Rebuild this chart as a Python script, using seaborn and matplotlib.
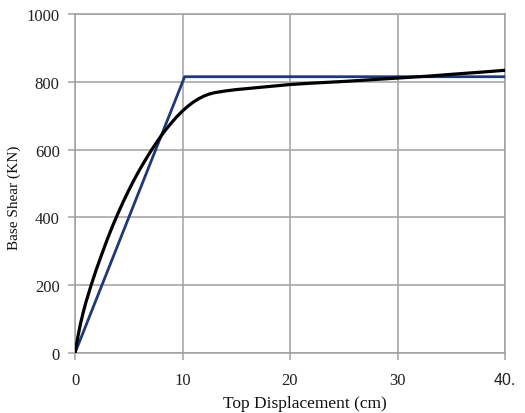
import matplotlib
matplotlib.use("Agg")
import matplotlib.pyplot as plt
import seaborn as sns
import pandas as pd

# Pushover curve (top displacement in cm, base shear in kN)
disp_curve = [0, 0.25, 0.5, 0.75, 1, 1.5, 2, 2.5, 3, 3.5, 4, 4.5, 5, 5.5, 6, 6.5,
              7, 7.5, 8, 8.5, 9, 9.5, 10, 10.5, 11, 11.5, 12, 12.5, 13, 14, 15,
              16, 18, 20, 22, 25, 28, 30, 33, 35, 38, 40]
shear_curve = [0, 45, 85, 118, 148, 200, 248, 292, 335, 375, 412, 447, 480, 511,
               540, 567, 593, 617, 640, 661, 680, 698, 714, 728, 740, 750, 758,
               764, 768, 773, 777, 780, 786, 792, 796, 801, 807, 811, 817, 822,
               829, 834]

# Idealised bilinear curve
disp_bilinear = [0, 10.2, 40]
shear_bilinear = [0, 815, 815]

x_ticks = [0, 10, 20, 30, 40]
x_tick_labels = ["0", "10", "20", "30", "40."]
y_ticks = [0, 200, 400, 600, 800, 1000]

sns.set_style("white")
plt.rcParams["font.family"] = ["Liberation Serif", "DejaVu Serif"]

fig = plt.figure(figsize=(5.25, 4.14), dpi=100)
ax = fig.add_axes([75 / 525, 60 / 414, 430 / 525, 339 / 414])

curve_df = pd.DataFrame({"disp": disp_curve, "shear": shear_curve})
bilinear_df = pd.DataFrame({"disp": disp_bilinear, "shear": shear_bilinear})

sns.lineplot(data=bilinear_df, x="disp", y="shear", sort=False, ax=ax,
             color="#1f3876", linewidth=2.0, zorder=3)
sns.lineplot(data=curve_df, x="disp", y="shear", sort=False, ax=ax,
             color="black", linewidth=2.3, zorder=4)

ax.set_xlim(0, 40)
ax.set_ylim(0, 1000)
ax.set_xticks(x_ticks)
ax.set_xticklabels(x_tick_labels)
ax.set_yticks(y_ticks)

ax.grid(True, color="#a0a0a0", linewidth=1.1)
ax.set_axisbelow(True)
for side in ["left", "right", "top", "bottom"]:
    ax.spines[side].set_visible(True)
    ax.spines[side].set_color("#a0a0a0")
    ax.spines[side].set_linewidth(1.1)

ax.tick_params(axis="both", which="major", direction="out", length=5,
               width=1.1, color="#a0a0a0", labelsize=12, labelcolor="#222222")
ax.tick_params(axis="x", pad=9)
ax.tick_params(axis="y", pad=6)
ax.tick_params(bottom=True, left=True)

# last x label is rendered in a sans face
ax.get_xticklabels()[-1].set_family(["Liberation Sans", "DejaVu Sans"])
ax.get_xticklabels()[-1].set_fontsize(11.5)

ax.set_xlabel("Top Displacement (cm)", fontsize=12.5, color="#111111")
ax.set_ylabel("Base Shear (KN)", fontsize=11, color="#111111")
ax.xaxis.set_label_coords(0.535, -0.125)
ax.yaxis.set_label_coords(-0.125, 0.46)

fig.savefig("out.png", dpi=100)
